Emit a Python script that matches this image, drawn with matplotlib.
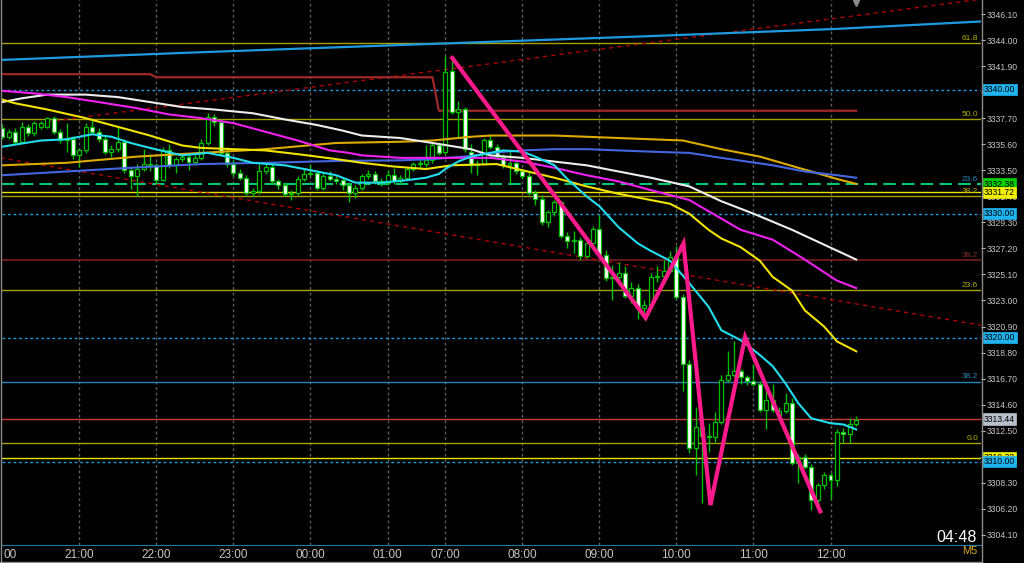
import numpy as np
import matplotlib.pyplot as plt
import matplotlib.transforms as mtransforms
from matplotlib.lines import Line2D

plt.rcParams['font.family'] = ['Liberation Sans', 'DejaVu Sans']

# XAUUSD M5 bars, 20:00 -> 12:20 (index 0..133)
opens = [3336.9, 3336.2, 3336.6, 3335.8, 3337.0, 3336.5, 3337.0, 3337.0, 3337.7, 3336.6,
         3335.9, 3336.0, 3334.7, 3335.1, 3337.0, 3336.6, 3336.0, 3335.0, 3335.2, 3335.8,
         3333.5, 3333.0, 3333.6, 3334.0, 3333.9, 3332.7, 3335.1, 3333.9, 3334.4, 3334.6,
         3334.2, 3334.5, 3335.7, 3337.8, 3337.4, 3334.9, 3334.0, 3333.3, 3332.9, 3331.7,
         3331.8, 3333.4, 3333.8, 3332.6, 3332.3, 3331.6, 3331.7, 3332.8, 3333.2, 3333.3,
         3332.1, 3333.0, 3332.8, 3332.7, 3332.3, 3331.7, 3332.1, 3333.0, 3333.2, 3332.6,
         3332.5, 3333.1, 3332.6, 3332.9, 3333.6, 3334.0, 3334.0, 3334.3, 3335.5, 3335.0,
         3341.5, 3338.2, 3338.4, 3335.0, 3333.9, 3334.0, 3335.9, 3335.4, 3334.6, 3333.9,
         3334.1, 3333.4, 3333.0, 3331.7, 3331.2, 3329.3, 3330.1, 3330.9, 3328.2, 3327.8,
         3327.9, 3326.6, 3327.6, 3328.8, 3326.7, 3324.8, 3324.9, 3325.2, 3323.4, 3324.0,
         3322.4, 3322.6, 3324.9, 3325.0, 3325.4, 3326.5, 3323.3, 3317.9, 3311.1, 3312.8,
         3312.1, 3312.0, 3313.2, 3316.6, 3317.0, 3317.3, 3316.8, 3316.5, 3316.3, 3314.2,
         3315.0, 3313.8, 3314.1, 3314.7, 3309.9, 3310.4, 3309.6, 3306.9, 3308.1, 3308.9,
         3308.5, 3312.4, 3312.2, 3313.0]
highs = [3337.2, 3336.8, 3336.9, 3337.4, 3337.2, 3337.5, 3337.5, 3337.8, 3337.9, 3336.8,
         3337.3, 3336.3, 3335.3, 3337.3, 3337.7, 3336.9, 3336.3, 3335.5, 3337.0, 3336.0,
         3333.8, 3334.0, 3335.2, 3334.8, 3334.1, 3335.4, 3335.6, 3334.6, 3334.9, 3334.8,
         3334.7, 3336.0, 3338.1, 3338.0, 3337.6, 3335.4, 3334.3, 3333.6, 3333.1, 3332.1,
         3334.0, 3334.2, 3334.0, 3332.8, 3332.5, 3331.9, 3333.0, 3333.7, 3334.0, 3333.5,
         3333.3, 3333.4, 3333.0, 3332.9, 3332.5, 3332.3, 3333.2, 3333.5, 3333.4, 3332.9,
         3333.5, 3333.7, 3333.1, 3333.8, 3334.2, 3334.4, 3335.5, 3335.7, 3335.8, 3342.7,
         3342.3, 3339.1, 3338.6, 3335.6, 3334.3, 3336.1, 3336.4, 3335.6, 3334.8, 3335.1,
         3334.3, 3333.6, 3333.4, 3331.9, 3331.5, 3330.3, 3331.1, 3331.0, 3328.5, 3328.6,
         3328.1, 3327.8, 3329.0, 3329.9, 3327.1, 3325.9, 3326.1, 3325.8, 3324.5, 3324.3,
         3323.0, 3325.2, 3325.8, 3326.3, 3327.0, 3327.4, 3323.5, 3318.2, 3314.4, 3313.0,
         3313.1, 3314.0, 3317.0, 3318.9, 3319.7, 3317.5, 3317.0, 3317.9, 3316.5, 3316.3,
         3316.3, 3314.4, 3315.5, 3315.1, 3310.6, 3310.6, 3309.8, 3308.3, 3309.2, 3309.1,
         3312.6, 3312.7, 3313.5, 3313.7]
lows = [3336.0, 3336.0, 3335.6, 3335.7, 3336.3, 3336.3, 3336.8, 3336.9, 3336.4, 3335.7,
        3335.0, 3334.4, 3333.8, 3334.9, 3336.4, 3335.8, 3334.8, 3334.6, 3335.0, 3333.3,
        3332.0, 3331.4, 3333.4, 3333.4, 3332.5, 3332.6, 3333.7, 3333.3, 3334.2, 3333.5,
        3333.9, 3334.3, 3335.5, 3337.1, 3334.7, 3333.8, 3333.0, 3332.7, 3331.5, 3331.4,
        3331.6, 3333.2, 3332.4, 3332.0, 3331.4, 3331.1, 3331.5, 3332.6, 3333.0, 3331.9,
        3331.9, 3332.6, 3332.4, 3331.9, 3330.9, 3331.3, 3331.9, 3332.8, 3332.4, 3332.2,
        3332.3, 3332.4, 3332.4, 3332.7, 3333.4, 3333.6, 3333.8, 3334.1, 3334.7, 3334.8,
        3338.0, 3336.1, 3335.0, 3333.3, 3333.1, 3333.9, 3335.2, 3334.4, 3333.7, 3332.5,
        3333.2, 3332.8, 3331.5, 3330.7, 3329.1, 3328.9, 3329.8, 3328.0, 3327.2, 3326.8,
        3326.3, 3326.4, 3327.4, 3326.5, 3324.6, 3323.0, 3324.6, 3323.2, 3322.8, 3321.5,
        3321.7, 3322.4, 3324.5, 3324.8, 3325.2, 3323.1, 3315.7, 3310.7, 3308.9, 3306.7,
        3310.8, 3311.6, 3313.0, 3316.4, 3316.8, 3316.3, 3316.2, 3316.1, 3314.0, 3312.6,
        3314.0, 3313.4, 3313.9, 3309.7, 3308.3, 3309.4, 3306.1, 3306.6, 3307.8, 3307.0,
        3308.0, 3311.5, 3311.5, 3312.9]
closes = [3336.2, 3336.6, 3335.8, 3337.0, 3336.5, 3337.3, 3337.3, 3337.7, 3336.6, 3335.9,
          3336.0, 3334.7, 3335.1, 3337.0, 3336.6, 3336.0, 3335.0, 3335.2, 3335.8, 3333.5,
          3333.0, 3333.6, 3334.0, 3333.9, 3332.7, 3335.1, 3333.9, 3334.4, 3334.6, 3334.2,
          3334.5, 3335.7, 3337.8, 3337.4, 3334.9, 3334.0, 3333.3, 3332.9, 3331.7, 3331.8,
          3333.4, 3333.8, 3332.6, 3332.3, 3331.6, 3331.7, 3332.8, 3333.2, 3333.3, 3332.1,
          3333.0, 3332.8, 3332.6, 3332.3, 3331.7, 3332.1, 3333.0, 3333.2, 3332.6, 3332.5,
          3333.1, 3332.6, 3332.9, 3333.6, 3334.0, 3334.0, 3334.3, 3335.5, 3334.9, 3341.4,
          3338.2, 3338.4, 3335.2, 3333.9, 3334.0, 3335.9, 3335.4, 3334.6, 3333.9, 3334.1,
          3333.4, 3333.0, 3331.7, 3331.2, 3329.3, 3330.1, 3330.9, 3328.2, 3327.8, 3327.9,
          3326.6, 3327.6, 3328.8, 3326.7, 3324.8, 3324.9, 3325.2, 3323.4, 3324.0, 3322.4,
          3322.6, 3324.9, 3325.0, 3325.4, 3326.5, 3323.3, 3317.9, 3311.1, 3312.8, 3312.1,
          3312.0, 3313.2, 3316.6, 3317.0, 3317.3, 3316.8, 3316.5, 3316.3, 3314.2, 3315.0,
          3314.2, 3314.1, 3314.7, 3309.9, 3310.4, 3309.6, 3306.9, 3308.1, 3308.9, 3308.5,
          3312.4, 3312.2, 3313.0, 3313.4]

hour_idx = [12, 24, 36, 48, 60, 69, 81, 93, 105, 117, 129]
hour_lbl = ["21:00", "22:00", "23:00", "00:00", "01:00", "07:00",
            "08:00", "09:00", "10:00", "11:00", "12:00"]

# moving averages (bar index, price)
cyan_i = [0, 6, 10, 14, 17, 20, 23, 28, 32, 36, 39, 44, 48, 52, 55, 59, 63, 66, 68, 69, 71, 73,
          76, 78, 81, 83, 86, 88, 91, 93, 96, 99, 101, 104, 107, 110, 112, 115, 118, 120, 122,
          124, 126, 129, 131, 133]
cyan_v = [3335.4, 3335.9, 3336.0, 3336.4, 3336.2, 3335.7, 3335.3, 3334.7, 3334.9, 3334.5, 3334.1,
          3333.9, 3333.5, 3333.1, 3332.5, 3332.5, 3332.7, 3332.9, 3333.2, 3333.6, 3334.2, 3334.6,
          3334.9, 3335.1, 3335.0, 3334.6, 3333.9, 3332.8, 3331.4, 3330.6, 3328.9, 3327.6, 3327.0,
          3326.2, 3324.4, 3322.5, 3320.6, 3319.8, 3318.6, 3317.7, 3316.3, 3314.7, 3313.5, 3313.1,
          3313.0, 3312.6]
yel_i = [0, 2, 7, 13, 18, 23, 28, 31, 36, 41, 46, 52, 56, 61, 66, 70, 77, 81, 86, 91, 96, 101,
         104, 107, 110, 112, 115, 118, 120, 123, 125, 128, 130, 133]
yel_v = [3339.2, 3338.9, 3338.4, 3337.7, 3337.0, 3336.3, 3335.5, 3335.3, 3335.2, 3335.1, 3334.8,
         3334.4, 3334.1, 3333.8, 3333.6, 3333.9, 3334.0, 3333.5, 3332.9, 3332.2, 3331.6, 3331.1,
         3330.8, 3330.0, 3328.7, 3328.0, 3327.3, 3326.2, 3324.9, 3323.8, 3322.2, 3320.9, 3319.7,
         3318.9]
gold_i = [0, 10, 21, 31, 41, 52, 62, 67, 73, 76, 86, 96, 106, 112, 118, 122, 126, 130, 133]
gold_v = [3333.9, 3334.1, 3334.6, 3334.9, 3335.2, 3335.7, 3335.8, 3335.9, 3336.2, 3336.3, 3336.3,
          3336.1, 3335.9, 3335.2, 3334.6, 3334.0, 3333.4, 3332.8, 3332.4]
mag_i = [0, 5, 10, 15, 21, 26, 31, 36, 41, 46, 51, 54, 56, 62, 67, 72, 76, 81, 86, 91, 96, 101,
         107, 112, 115, 120, 125, 130, 133]
mag_v = [3339.9, 3339.7, 3339.4, 3339.0, 3338.5, 3338.0, 3337.7, 3337.3, 3336.6, 3335.9, 3335.1,
         3334.9, 3334.7, 3334.5, 3334.5, 3334.5, 3334.5, 3334.2, 3333.7, 3333.1, 3332.6, 3331.9,
         3331.1, 3329.6, 3328.7, 3327.9, 3326.3, 3324.6, 3324.0]
wht_i = [0, 3, 7, 13, 18, 23, 28, 33, 39, 44, 49, 53, 56, 62, 67, 73, 76, 81, 86, 91, 96, 101,
         107, 112, 117, 123, 128, 133]
wht_v = [3339.0, 3339.3, 3339.6, 3339.6, 3339.4, 3339.0, 3338.6, 3338.4, 3338.1, 3337.6, 3337.15,
         3336.7, 3336.3, 3336.1, 3335.7, 3335.2, 3334.7, 3334.5, 3334.2, 3333.9, 3333.4, 3332.9,
         3332.2, 3331.0, 3330.0, 3328.7, 3327.5, 3326.3]
blu_i = [0, 10, 20, 31, 41, 52, 62, 67, 73, 76, 81, 86, 91, 96, 101, 107, 112, 116, 120, 125,
         130, 133]
blu_v = [3333.1, 3333.4, 3333.7, 3334.0, 3334.1, 3334.25, 3334.3, 3334.4, 3334.65, 3334.9, 3335.1,
         3335.2, 3335.2, 3335.1, 3335.0, 3334.9, 3334.5, 3334.2, 3333.9, 3333.4, 3333.1, 3332.9]
top_i = [0, 30, 62, 100, 130, 152.5]
top_v = [3342.4, 3343.0, 3343.6, 3344.3, 3344.9, 3345.5]
step_i = [0, 23, 24, 67, 68, 133]
step_v = [3341.25, 3341.25, 3341.0, 3341.0, 3338.3, 3338.3]

# drawn objects
zig_i = [70.1, 100.2, 106.1, 110.3, 115.7, 127.4]
zig_v = [3342.55, 3321.6, 3327.6, 3306.5, 3320.05, 3306.0]
trend_up_i = [7, 152.5]
trend_up_v = [3337.4, 3347.3]
trend_dn_i = [-0.3, 152.5]
trend_dn_v = [3334.5, 3321.0]

fib_olive = [3343.74, 3337.6, 3331.4, 3323.84, 3311.5]
fib_olive_lbl = ["61.8", "50.0", "38.2", "23.6", "0.0"]
dotted_lv = [3340.0, 3330.0, 3320.0, 3310.0]
yellow_lv = [3331.72, 3310.32]
green_lv = 3332.38
darkred_lv = 3326.26
steel_lv = 3316.46
bid = 3313.44

price_ticks = [3304.1 + 2.1 * k for k in range(21)]
# scale labels that sit under the price boxes are not shown
hidden_ticks = ["3310.40", "3339.80"]

GREEN = '#00C000'
GREY = '#C4C4C4'

fig = plt.figure(figsize=(10.24, 5.63), dpi=100, facecolor='black')
ax = fig.add_axes([2 / 1024, 18 / 563, 979 / 1024, 545 / 563], facecolor='black')
ax.set_xlim(-0.05, -0.05 + 979 / 6.42)
ax.set_ylim(3303.28, 3347.23)

# grid (vertical only)
for i in hour_idx:
    ax.axvline(i, color='#5C5C5C', lw=1, ls=(0, (2, 2)), zorder=1)

# horizontal lines
for lv in fib_olive:
    ax.axhline(lv, color='#A8A000', lw=1, zorder=1.5)
for lv in dotted_lv:
    ax.axhline(lv, color='#1B9AD8', lw=1, ls=(0, (2, 2)), zorder=1.5)
for lv in yellow_lv:
    ax.axhline(lv, color='#E4E400', lw=1, zorder=1.5)
ax.axhline(green_lv, color='#00C878', lw=1.5, ls=(0, (6, 3)), zorder=1.5)
ax.axhline(darkred_lv, color='#7A1E1E', lw=1.2, zorder=1.5)
ax.axhline(steel_lv, color='#2484B8', lw=1, zorder=1.5)
ax.axhline(bid, color='#C83C3C', lw=1, zorder=1.5)

ax.plot(trend_up_i, trend_up_v, color='#B00000', lw=1, ls=(0, (3, 3)), zorder=1.6)
ax.plot(trend_dn_i, trend_dn_v, color='#B00000', lw=1, ls=(0, (3, 3)), zorder=1.6)
ax.plot(top_i, top_v, color='#1E9BE0', lw=1.6, zorder=2)
ax.plot(step_i, step_v, color='#A0282A', lw=1.6, zorder=2)

# candles
idx = np.arange(len(opens))
o = np.array(opens); h = np.array(highs); l = np.array(lows); c = np.array(closes)
up = c >= o
ax.vlines(idx, l, h, color=GREEN, lw=1, zorder=3)
lo = np.minimum(o, c)
ht = np.maximum(np.abs(c - o), 0.06)
ax.bar(idx[up], ht[up], bottom=lo[up], width=0.62, color='black', edgecolor=GREEN, lw=0.9, zorder=4)
ax.bar(idx[~up], ht[~up], bottom=lo[~up], width=0.62, color='white', edgecolor=GREEN, lw=0.9, zorder=4)

# indicators
ax.plot(gold_i, gold_v, color='#DDAA00', lw=1.5, zorder=5)
ax.plot(blu_i, blu_v, color='#4466E0', lw=1.5, zorder=5)
ax.plot(wht_i, wht_v, color='#EDEDED', lw=1.5, zorder=5)
ax.plot(mag_i, mag_v, color='#F020F0', lw=1.5, zorder=5)
ax.plot(yel_i, yel_v, color='#F2E200', lw=1.5, zorder=5)
ax.plot(cyan_i, cyan_v, color='#22DDEE', lw=1.5, zorder=5)

ax.plot(zig_i, zig_v, color='#FF1A8C', lw=3, solid_joinstyle='miter', zorder=6)

# fib labels
tr = mtransforms.blended_transform_factory(ax.transAxes, ax.transData)
for lv, t in zip(fib_olive, fib_olive_lbl):
    ax.text(0.997, lv + 0.12, t, transform=tr, ha='right', va='bottom', color='#B8B000', fontsize=6)
ax.text(0.997, green_lv + 0.12, "23.6", transform=tr, ha='right', va='bottom', color='#2484B8', fontsize=6)
ax.text(0.997, darkred_lv + 0.12, "38.2", transform=tr, ha='right', va='bottom', color='#8A2828', fontsize=6)
ax.text(0.997, steel_lv + 0.12, "38.2", transform=tr, ha='right', va='bottom', color='#2484B8', fontsize=6)

ax.plot([133], [3346.95], marker='v', color='#8A8A8A', ms=5, clip_on=False, zorder=7)

# axes styling
for s in ['top', 'left', 'right']:
    ax.spines[s].set_visible(False)
ax.spines['bottom'].set_color('#1E7BA0')
ax.yaxis.tick_right()
ax.set_yticks(price_ticks)
tick_txt = [f"{p:.2f}" for p in price_ticks]
ax.set_yticklabels(["" if t in hidden_ticks else t for t in tick_txt])
ax.tick_params(axis='y', colors=GREY, labelcolor=GREY, length=3, width=0.8, pad=1, labelsize=6.2)
ax.set_xticks(hour_idx)
ax.set_xticklabels(hour_lbl)
ax.tick_params(axis='x', length=0, labelcolor=GREY, labelsize=8.5, pad=3)
# first hour label is cut by the left edge, only its minutes show
fig.text(3 / 1024, 1 - 549 / 563, "00", ha='left', va='top', color=GREY, fontsize=8.5)

# price boxes on the scale
boxes = [(3340.0, "3340.00", '#1EB4F0'), (green_lv, "3332.38", '#00D000'),
         (yellow_lv[0], "3331.72", '#F0F000'), (3330.0, "3330.00", '#1EB4F0'),
         (3320.0, "3320.00", '#1EB4F0'), (bid, "3313.44", '#B8C0CC'),
         (yellow_lv[1], "3310.32", '#F0F000'), (3310.0, "3310.00", '#1EB4F0')]
for lv, t, col in boxes:
    ax.text(1.003, lv, t, transform=tr, ha='left', va='center', color='black', fontsize=6.2,
            clip_on=False, zorder=10,
            bbox=dict(boxstyle='square,pad=0.15', fc=col, ec=col, lw=0.5))

# frame
fig.add_artist(Line2D([1 / 1024, 1 / 1024], [0, 1], color='#8A8A8A', lw=1))
fig.add_artist(Line2D([981.5 / 1024, 981.5 / 1024], [0, 1], color='#8A8A8A', lw=1))
fig.add_artist(Line2D([0, 981.5 / 1024], [1.5 / 563, 1.5 / 563], color='#8A8A8A', lw=1))

fig.text(957 / 1024, 1 - 537 / 563, "04:48", color='white', fontsize=11.5, ha='center', va='center')
fig.text(970 / 1024, 1 - 551 / 563, "M5", color='#DAA520', fontsize=8, ha='center', va='center')

plt.savefig("out.png", dpi=100, facecolor='black')
